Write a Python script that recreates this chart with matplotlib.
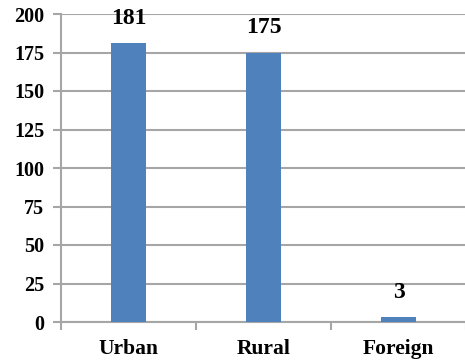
import matplotlib.pyplot as plt
import numpy as np

# data
categories = ['Urban', 'Rural', 'Foreign']
counts = [181, 175, 3]
yticks = [0, 25, 50, 75, 100, 125, 150, 175, 200]

plt.rcParams['font.family'] = ['Liberation Serif', 'DejaVu Serif']
plt.rcParams['font.weight'] = 'bold'

fig = plt.figure(figsize=(4.65, 3.63), dpi=100)
ax = fig.add_axes([61 / 465, 41 / 363, 405 / 465, 308 / 363])

x = np.arange(len(categories))
ax.bar(x, counts, width=0.26, color='#4F81BD', zorder=3)

for xi, v in zip(x, counts):
    ax.annotate(str(v), (xi, v), xytext=(0, 18), textcoords='offset points',
                ha='center', va='center', fontsize=17, fontweight='bold')

ax.set_xlim(-0.5, len(categories) - 0.5)
ax.set_ylim(0, 200)
ax.set_yticks(yticks)
ax.set_yticklabels([str(t) for t in yticks])
for lbl in ax.get_yticklabels():
    lbl.set_fontsize(14.5)
    lbl.set_fontweight('bold')
ax.yaxis.grid(True, color='#A6A6A6', linewidth=1.5, zorder=0)

# category labels between boundary ticks
ax.set_xticks(np.arange(len(categories) + 1) - 0.5)
ax.set_xticklabels([])
ax.set_xticks(x, minor=True)
ax.set_xticklabels(categories, minor=True)
for lbl in ax.get_xticklabels(minor=True):
    lbl.set_fontsize(15.5)
    lbl.set_fontweight('bold')
ax.tick_params(axis='x', which='minor', length=0, pad=12)
ax.tick_params(axis='x', which='major', length=6, width=1.5, color='#A6A6A6')
ax.tick_params(axis='y', length=6, width=1.5, color='#A6A6A6', pad=6)

for s in ['top', 'right']:
    ax.spines[s].set_visible(False)
for s in ['left', 'bottom']:
    ax.spines[s].set_color('#A6A6A6')
    ax.spines[s].set_linewidth(1.5)

fig.savefig('out.png', dpi=100)
